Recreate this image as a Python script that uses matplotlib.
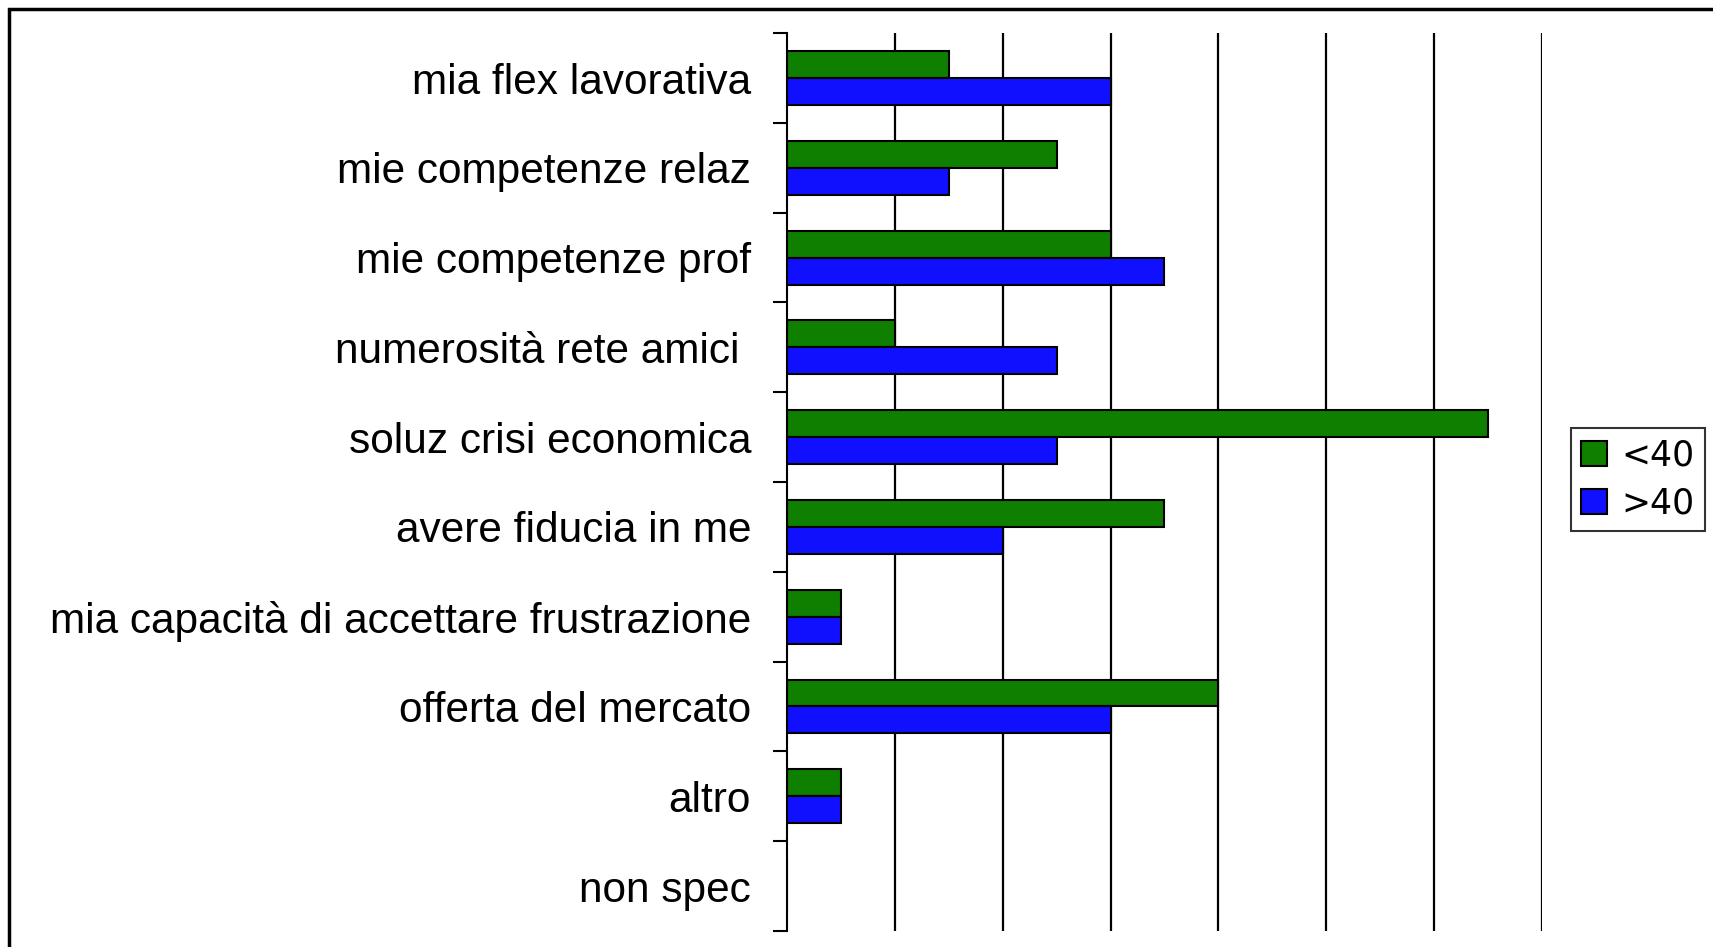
import matplotlib.pyplot as plt
import matplotlib.patches as mpatches
import numpy as np

plt.rcParams['font.family'] = ['Liberation Sans', 'DejaVu Sans']

# data (top to bottom as in the chart)
categories = ['mia flex lavorativa', 'mie competenze relaz', 'mie competenze prof',
              'numerosità rete amici ', 'soluz crisi economica', 'avere fiducia in me',
              'mia capacità di accettare frustrazione', 'offerta del mercato',
              'altro', 'non spec']
under40 = [3, 5, 6, 2, 13, 7, 1, 8, 1, 0]
over40 = [6, 3, 7, 5, 5, 4, 1, 6, 1, 0]
series_names = ['<40', '>40']

fig = plt.figure(figsize=(17.13, 9.47), dpi=100)
ax = fig.add_axes([0.4595, 0.017, 0.4405, 0.948])

n = len(categories)
y = np.arange(n)
h = 0.3
ax.barh(y - h / 2, under40, height=h, color='#0f7f00', edgecolor='black', linewidth=1.5, label=series_names[0])
ax.barh(y + h / 2, over40, height=h, color='#1010ff', edgecolor='black', linewidth=1.5, label=series_names[1])

ax.set_xlim(0, 14)
ax.set_ylim(n - 0.5, -0.5)
ax.set_xticks(np.arange(2, 15, 2))
ax.grid(axis='x', color='black', linewidth=1.6)
ax.set_axisbelow(True)
ax.tick_params(axis='x', length=0, labelbottom=False)

# boundary ticks + centered labels
ax.set_yticks(np.arange(-0.5, n, 1))
ax.set_yticklabels([])
ax.tick_params(axis='y', which='major', length=10, width=1.5, direction='out')
ax.set_yticks(y, minor=True)
ax.set_yticklabels(categories, minor=True, fontsize=30.5)
ax.tick_params(axis='y', which='minor', length=0, pad=26)

for s in ['top', 'right', 'bottom']:
    ax.spines[s].set_visible(False)
ax.spines['left'].set_linewidth(1.5)

leg = fig.legend(loc='upper left', bbox_to_anchor=(0.917, 0.548),
                 prop={'family': 'DejaVu Sans', 'size': 25},
                 frameon=True, fancybox=False, edgecolor='black', handlelength=0.75,
                 handleheight=0.75, handletextpad=0.4, borderpad=0.3, labelspacing=0.4,
                 borderaxespad=0)
leg.get_frame().set_linewidth(1.5)

# outer frame
fig.patches.append(mpatches.Rectangle((0.0055, -0.01), 1.1, 1.0, transform=fig.transFigure,
                                      fill=False, edgecolor='black', linewidth=2.5))

fig.savefig('out.png', dpi=100)
